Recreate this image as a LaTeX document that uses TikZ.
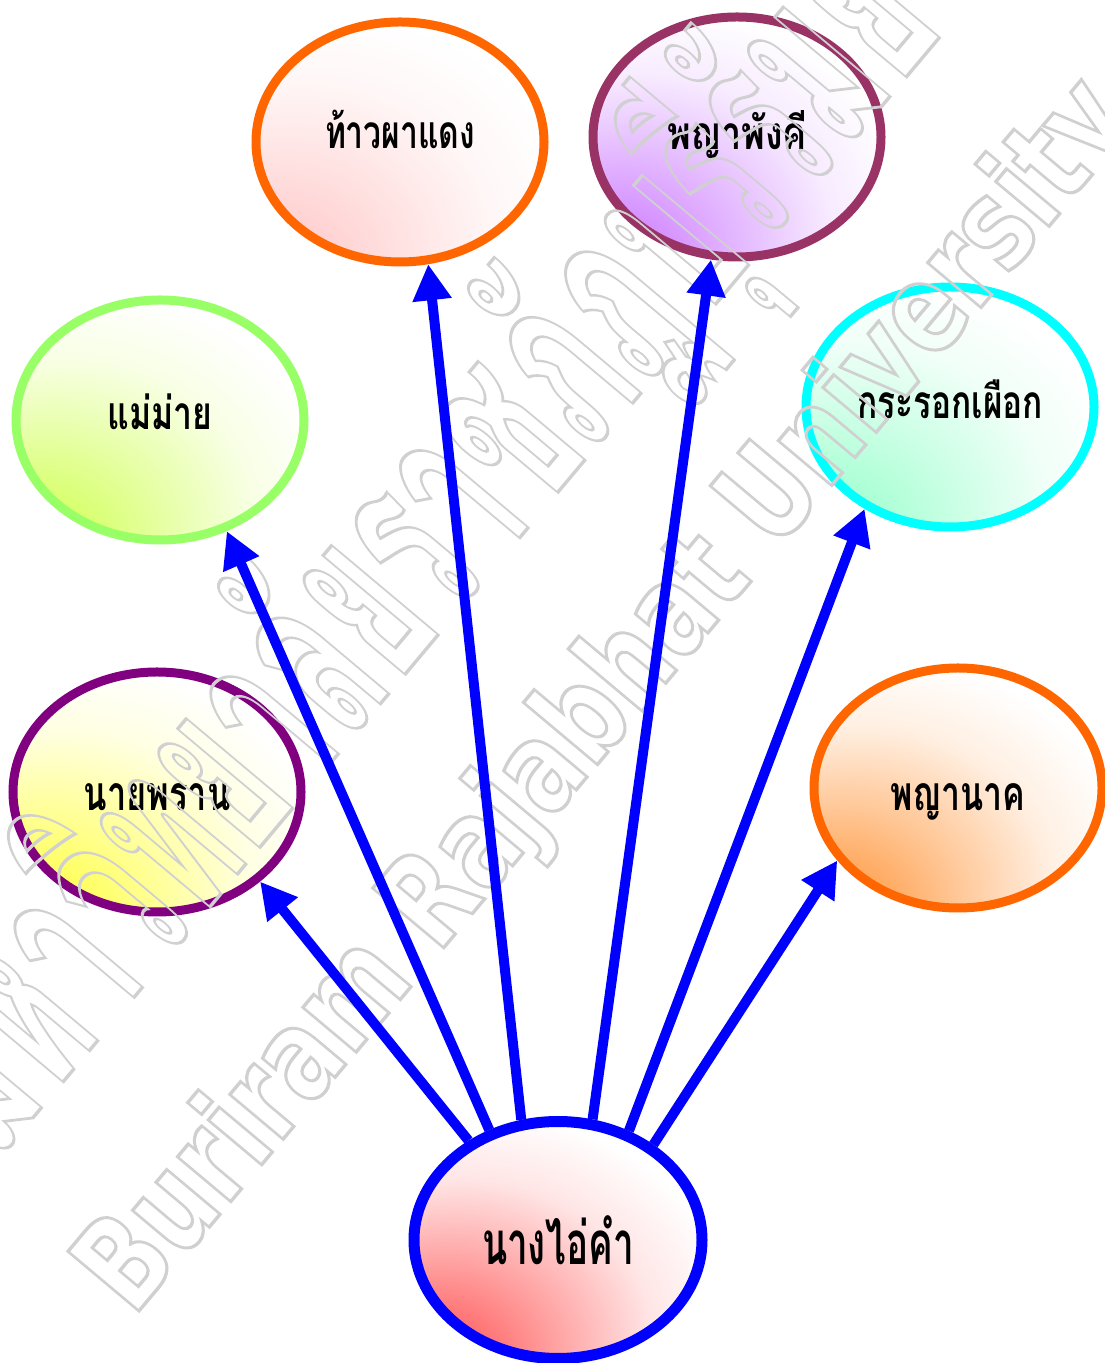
\documentclass[tikz,border=0pt]{standalone}
\usepackage{fontspec}
\usepackage{graphicx}
\newfontfamily\thai[Script=Thai]{Loma}
\newfontfamily\wmfont{DejaVu Sans}
\usetikzlibrary{shapes.geometric,arrows.meta}
\definecolor{bTP}{HTML}{FF6600}\definecolor{fTP}{HTML}{FFC4C4}
\definecolor{bPK}{HTML}{993366}\definecolor{fPK}{HTML}{C870FF}
\definecolor{bMM}{HTML}{99FF66}\definecolor{fMM}{HTML}{CCFF44}
\definecolor{bKR}{HTML}{00FFFF}\definecolor{fKR}{HTML}{90FFC8}
\definecolor{bNP}{HTML}{800080}\definecolor{fNP}{HTML}{FFFF30}
\definecolor{bNK}{HTML}{FF6600}\definecolor{fNK}{HTML}{FF9030}
\definecolor{bC}{HTML}{0000FF}\definecolor{fC}{HTML}{FF4848}
\definecolor{wmgray}{HTML}{D0D0D0}
\newcommand\mkshade[2]{\pgfdeclareradialshading{#1}{\pgfpoint{-25bp}{-30bp}}{color(0bp)=(#2); color(8bp)=(#2!85!white); color(20bp)=(#2!50!white); color(33bp)=(#2!14!white); color(44bp)=(white); color(100bp)=(white)}}
\mkshade{shTP}{fTP}\mkshade{shPK}{fPK}\mkshade{shMM}{fMM}\mkshade{shKR}{fKR}
\mkshade{shNP}{fNP}\mkshade{shNK}{fNK}\mkshade{shC}{fC}
\newcommand\lbl[4]{\raisebox{#4}[0pt][0pt]{\resizebox{#1}{\height}{\thai\bfseries\fontsize{#2}{#2}\selectfont #3}}}
\newcommand\outl[1]{\special{pdf:bcontent}\special{pdf:code 1 Tr 3.4 w}#1\special{pdf:econtent}}
\tikzset{
  ell/.style={ellipse, minimum width=288pt, minimum height=240pt, inner sep=0pt, line width=9pt, shade},
  arr/.style={draw=bC, line width=10pt, -{Triangle[length=36pt,width=37pt]}},
  wm/.style={inner sep=0pt, text=wmgray, rotate=50, anchor=base west}
}
\begin{document}
\begin{tikzpicture}[x=1pt,y=1pt]
\useasboundingbox (0,0) rectangle (1105,1363);
\clip (0,0) rectangle (1105,1363);
\node[ell, draw=bTP, shading=shTP] (tp) at (400,1221) {\lbl{150pt}{46}{ท้าวผาแดง}{-7pt}};
\node[ell, draw=bPK, shading=shPK] (pk) at (737,1226) {\lbl{140pt}{46}{พญาพังคี}{-13pt}};
\node[ell, draw=bMM, shading=shMM] (mm) at (160,943) {\lbl{105pt}{46}{แม่ม่าย}{-10pt}};
\node[ell, draw=bKR, shading=shKR] (kr) at (950,956) {\lbl{186pt}{46}{กระรอกเผือก}{-12pt}};
\node[ell, draw=bNP, shading=shNP] (np) at (157,571) {\lbl{147pt}{48}{นายพราน}{-19pt}};
\node[ell, draw=bNK, shading=shNK] (nk) at (958,575) {\lbl{135pt}{48}{พญานาค}{-23pt}};
\node[ell, draw=bC, shading=shC, line width=11pt, minimum height=237pt] (C) at (558,123) {\lbl{152pt}{60}{นางไอ่คำ}{-25pt}};
\node[wm] (wm1) at (133,45) {\resizebox{1560pt}{\height}{\outl{\wmfont\bfseries\fontsize{127}{127}\selectfont Buriram Rajabhat University}}};
\node[wm] (wm2) at (-5,200) {\resizebox{1480pt}{\height}{\outl{\thai\bfseries\fontsize{250}{250}\selectfont มหาวิทยาลัยราชภัฏบุรีรัมย์}}};
\draw[arr] (C.132) -- (np.-41);
\draw[arr] (C.122) -- (mm.-59);
\draw[arr] (C.107) -- (tp.-77);
\draw[arr] (C.74) -- (pk.-102);
\draw[arr] (C.57) -- (kr.-130);
\draw[arr] (C.45) -- (nk.-149);
\end{tikzpicture}
\end{document}
